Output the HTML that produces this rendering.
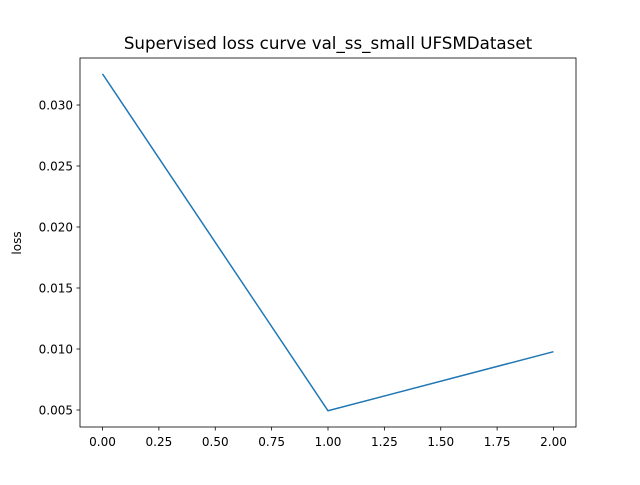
<!DOCTYPE html>
<html><head><meta charset="utf-8"><style>
body{margin:0;background:#fff;}
svg text{font-family:"DejaVu Sans","Liberation Sans",sans-serif;fill:#000;}
</style></head><body>
<svg id="chart" width="640" height="480" xmlns="http://www.w3.org/2000/svg">
<rect width="640" height="480" fill="#fff"/>
<text x="328" y="49" font-size="16.7" text-anchor="middle">Supervised loss curve val_ss_small UFSMDataset</text>
<text transform="translate(21,243) rotate(-90)" font-size="12" text-anchor="middle">loss</text>
<g id="plot"></g>
<rect x="80" y="58" width="496" height="369" fill="none" stroke="#000" stroke-width="0.8"/>
</svg>
<script>
const epochs = [0, 1, 2];
const lossValues = [0.03255, 0.00494, 0.00978];
const xTicks = [0, 0.25, 0.5, 0.75, 1.0, 1.25, 1.5, 1.75, 2.0];
const xTickLabels = ["0.00","0.25","0.50","0.75","1.00","1.25","1.50","1.75","2.00"];
const yTicks = [0.005, 0.010, 0.015, 0.020, 0.025, 0.030];
const yTickLabels = ["0.005","0.010","0.015","0.020","0.025","0.030"];

const NS = "http://www.w3.org/2000/svg";
const g = document.getElementById('plot');
function xs(v){ return 102.5 + v * 225.5; }
function ys(v){ return 410 - (v - 0.005) * 12200; }
function mk(tag, attrs){ const e = document.createElementNS(NS, tag); for (const k in attrs) e.setAttribute(k, attrs[k]); g.appendChild(e); return e; }

xTicks.forEach((t, i) => {
  const l = mk('line', {x1: xs(t), x2: xs(t), y1: 427, y2: 430.5, stroke: '#000', 'stroke-width': 0.8});
  
  
  const tx = mk('text', {x: xs(t), y: 446, 'font-size': 12, 'text-anchor': 'middle'});
  tx.textContent = xTickLabels[i];
  
  
});
yTicks.forEach((t, i) => {
  const l = mk('line', {x1: 76.5, x2: 80, y1: ys(t), y2: ys(t), stroke: '#000', 'stroke-width': 0.8});
  
  
  const tx = mk('text', {x: 73, y: ys(t) + 4.3, 'font-size': 12, 'text-anchor': 'end'});
  tx.textContent = yTickLabels[i];
  
  
});
const pts = epochs.map((e, i) => xs(e) + ',' + ys(lossValues[i])).join(' ');
const line = mk('polyline', {points: pts, fill: 'none', stroke: '#1f77b4', 'stroke-width': 1.5});


</script>
</body></html>
